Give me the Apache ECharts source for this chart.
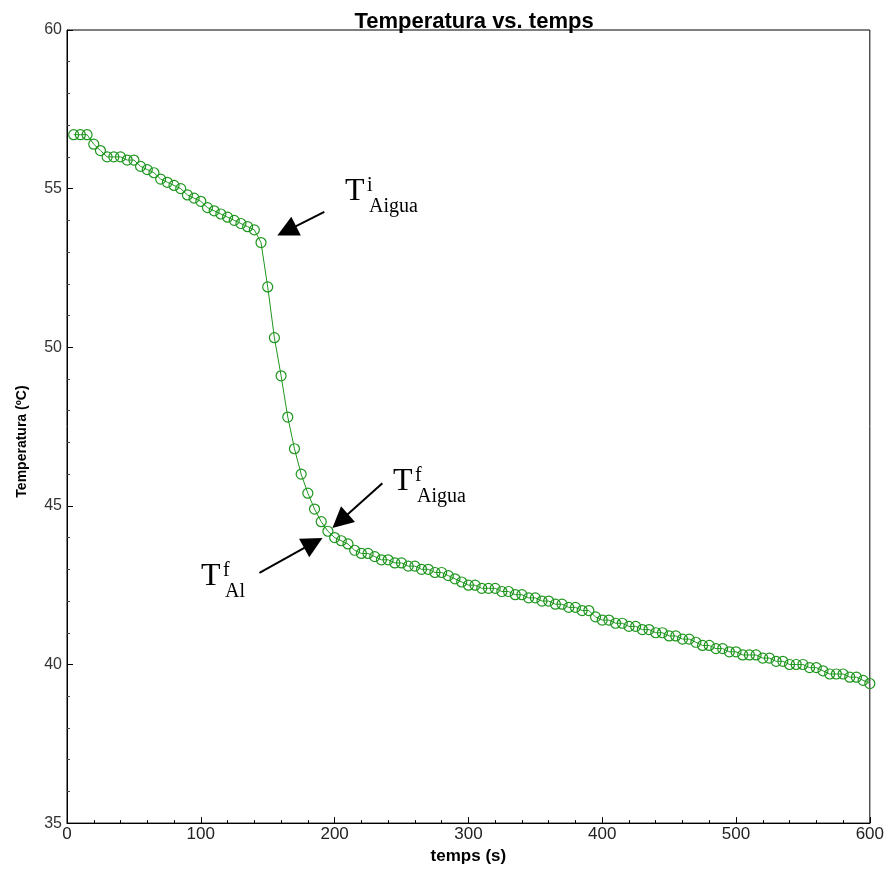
<!DOCTYPE html>
<html>
<head>
<meta charset="utf-8">
<script src="https://cdn.jsdelivr.net/npm/echarts@6/dist/echarts.min.js"></script>
<style>
  html, body { margin: 0; padding: 0; background: #fff; }
  #chart { width: 887px; height: 870px; }
</style>
</head>
<body>
<div id="chart"></div>
<script>
// temps (s)
const times = [
  5, 10, 15, 20, 25, 30, 35, 40, 45, 50, 55, 60, 65, 70, 75, 80, 85, 90, 95, 100,
  105, 110, 115, 120, 125, 130, 135, 140, 145, 150, 155, 160, 165, 170, 175, 180, 185, 190, 195, 200,
  205, 210, 215, 220, 225, 230, 235, 240, 245, 250, 255, 260, 265, 270, 275, 280, 285, 290, 295, 300,
  305, 310, 315, 320, 325, 330, 335, 340, 345, 350, 355, 360, 365, 370, 375, 380, 385, 390, 395, 400,
  405, 410, 415, 420, 425, 430, 435, 440, 445, 450, 455, 460, 465, 470, 475, 480, 485, 490, 495, 500,
  505, 510, 515, 520, 525, 530, 535, 540, 545, 550, 555, 560, 565, 570, 575, 580, 585, 590, 595, 600
];
// Temperatura (ºC)
const temps = [
  56.7, 56.7, 56.7, 56.4, 56.2, 56.0, 56.0, 56.0, 55.9, 55.9, 55.7, 55.6, 55.5, 55.3, 55.2, 55.1, 55.0, 54.8, 54.7, 54.6,
  54.4, 54.3, 54.2, 54.1, 54.0, 53.9, 53.8, 53.7, 53.3, 51.9, 50.3, 49.1, 47.8, 46.8, 46.0, 45.4, 44.9, 44.5, 44.2, 44.0,
  43.9, 43.8, 43.6, 43.5, 43.5, 43.4, 43.3, 43.3, 43.2, 43.2, 43.1, 43.1, 43.0, 43.0, 42.9, 42.9, 42.8, 42.7, 42.6, 42.5,
  42.5, 42.4, 42.4, 42.4, 42.3, 42.3, 42.2, 42.2, 42.1, 42.1, 42.0, 42.0, 41.9, 41.9, 41.8, 41.8, 41.7, 41.7, 41.5, 41.4,
  41.4, 41.3, 41.3, 41.2, 41.2, 41.1, 41.1, 41.0, 41.0, 40.9, 40.9, 40.8, 40.8, 40.7, 40.6, 40.6, 40.5, 40.5, 40.4, 40.4,
  40.3, 40.3, 40.3, 40.2, 40.2, 40.1, 40.1, 40.0, 40.0, 40.0, 39.9, 39.9, 39.8, 39.7, 39.7, 39.7, 39.6, 39.6, 39.5, 39.4
];
// fletxes: [inici, centre de la punta] en coordenades de dades
const arrows = [
  [[192.3, 54.27], [164.2, 53.67]],
  [[235.7, 45.71], [204.2, 44.52]],
  [[143.8, 42.89], [184.1, 43.83]]
];

const green = '#1e961e';
const serif = '"Liberation Serif", "Times New Roman", serif';

const chart = echarts.init(document.getElementById('chart'));

// etiqueta T amb superindex i subindex
function label(x, baseline, sup, sub) {
  return [
    { type: 'text', x: x, y: baseline - 11, style: { text: 'T', font: '32px ' + serif, fill: '#000', verticalAlign: 'middle' } },
    { type: 'text', x: x + 22, y: baseline - 17, style: { text: sup, font: '20px ' + serif, fill: '#000', verticalAlign: 'middle' } },
    { type: 'text', x: x + 24, y: baseline + 4, style: { text: sub, font: '20px ' + serif, fill: '#000', verticalAlign: 'middle' } }
  ];
}

chart.setOption({
  animation: false,
  title: {
    text: 'Temperatura vs. temps',
    left: 469, top: 6, textAlign: 'center',
    textStyle: { fontFamily: 'Liberation Sans', fontWeight: 'bold', fontSize: 22, color: '#000' }
  },
  grid: {
    left: 67, right: 15, top: 30, bottom: 41,
    show: true, borderColor: '#000', borderWidth: 1
  },
  xAxis: {
    type: 'value', min: 0, max: 600, interval: 100,
    name: 'temps (s)', nameLocation: 'middle', nameGap: 20,
    nameTextStyle: { fontFamily: 'Liberation Sans', fontWeight: 'bold', fontSize: 17, color: '#000' },
    axisLine: { lineStyle: { color: '#000', width: 1 } },
    axisTick: { inside: true, length: 6, lineStyle: { color: '#000' } },
    minorTick: { show: true, splitNumber: 5, length: 3, lineStyle: { color: '#000' } },
    axisLabel: { margin: 3, fontFamily: '"Liberation Sans Narrow", "Liberation Sans"', fontSize: 17, color: '#222' },
    splitLine: { show: false }
  },
  yAxis: {
    type: 'value', min: 35, max: 60, interval: 5,
    name: 'Temperatura (ºC)', nameLocation: 'middle', nameGap: 38,
    nameTextStyle: { fontFamily: '"Liberation Sans Narrow", "Liberation Sans"', fontWeight: 'bold', fontSize: 14, color: '#000', padding: [0, 30, 0, 0] },
    axisLine: { lineStyle: { color: '#000', width: 1 } },
    axisTick: { inside: true, length: 6, lineStyle: { color: '#000' } },
    minorTick: { show: true, splitNumber: 5, length: 3, lineStyle: { color: '#444' } },
    axisLabel: { margin: 5, fontFamily: 'Liberation Sans', fontSize: 16, color: '#333' },
    splitLine: { show: false }
  },
  series: [{
    type: 'line',
    data: times.map((t, i) => [t, temps[i]]),
    symbol: 'circle',
    symbolSize: 10,
    showAllSymbol: true,
    lineStyle: { color: green, width: 1 },
    itemStyle: { color: 'rgba(0,0,0,0)', borderColor: green, borderWidth: 1.2 },
    markLine: {
      silent: true,
      symbol: ['none', 'triangle'],
      symbolSize: 21,
      label: { show: false },
      lineStyle: { color: '#000', width: 2, type: 'solid' },
      itemStyle: { color: '#000' },
      data: arrows.map(a => [{ coord: a[0] }, { coord: a[1] }])
    }
  }],
  graphic: [].concat(
    label(345, 203, 'i', 'Aigua'),
    label(393, 493, 'f', 'Aigua'),
    label(201, 588, 'f', 'Al')
  )
});
</script>
</body>
</html>
